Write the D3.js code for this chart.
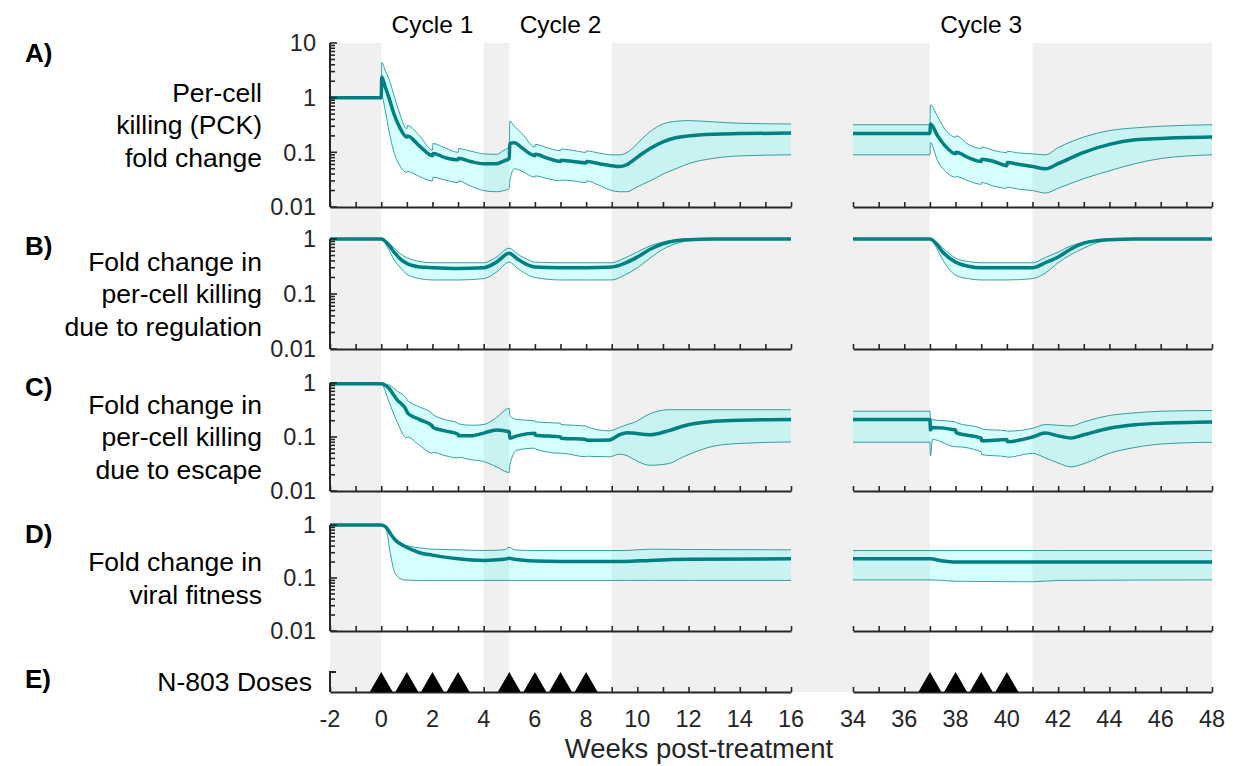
<!DOCTYPE html>
<html lang="en">
<head>
<meta charset="UTF-8">
<title>N-803 per-cell killing fold changes</title>
<script src="https://d3js.org/d3.v7.min.js"></script>
<style>
  body { margin: 0; background: #fff; }
  svg { display: block; font-family: "Liberation Sans", Arial, Helvetica, sans-serif; }
</style>
</head>
<body>
<svg width="1233" height="766"></svg>
<script>
// rows are [week, lower, median, upper]
const pckLeft = [
  [-2, 1, 1, 1], [0, 1, 1, 1], [0.02, 1.1, 2.4, 4.4], [0.15, 0.6, 1.6, 3.2], [0.3, 0.25, 1.0, 2.2],
  [0.5, 0.1, 0.5, 1.1], [0.7, 0.06, 0.3, 0.55], [1, 0.043, 0.19, 0.27], [1.02, 0.045, 0.2, 0.31],
  [1.5, 0.036, 0.13, 0.2], [2, 0.03, 0.087, 0.11], [2.02, 0.035, 0.095, 0.145], [2.5, 0.031, 0.08, 0.12],
  [3, 0.028, 0.073, 0.1], [3.02, 0.03, 0.078, 0.117], [3.5, 0.024, 0.068, 0.105], [4, 0.02, 0.062, 0.094],
  [4.5, 0.019, 0.062, 0.092], [4.8, 0.02, 0.07, 0.11], [5, 0.022, 0.077, 0.127], [5.02, 0.03, 0.145, 0.37],
  [5.2, 0.05, 0.15, 0.3], [5.5, 0.045, 0.12, 0.22], [6, 0.035, 0.087, 0.125], [6.02, 0.037, 0.092, 0.14],
  [6.5, 0.033, 0.078, 0.12], [7, 0.03, 0.068, 0.107], [7.02, 0.031, 0.072, 0.115], [7.5, 0.03, 0.068, 0.108],
  [8, 0.028, 0.064, 0.1], [8.02, 0.03, 0.068, 0.106], [8.5, 0.025, 0.062, 0.097], [9, 0.02, 0.057, 0.09],
  [9.3, 0.019, 0.055, 0.09], [9.6, 0.019, 0.06, 0.1], [9.9, 0.022, 0.075, 0.13], [10.2, 0.026, 0.095, 0.18],
  [10.5, 0.03, 0.117, 0.24], [11, 0.04, 0.155, 0.33], [11.5, 0.05, 0.185, 0.37], [12, 0.062, 0.2, 0.38],
  [13, 0.078, 0.215, 0.36], [14, 0.086, 0.22, 0.34], [16, 0.09, 0.225, 0.33]
];
const pckRight = [
  [34, 0.09, 0.22, 0.32], [37, 0.09, 0.22, 0.32], [37.02, 0.15, 0.33, 0.74], [37.3, 0.07, 0.2, 0.45],
  [37.6, 0.045, 0.13, 0.26], [38, 0.035, 0.094, 0.19], [38.02, 0.036, 0.1, 0.2], [38.5, 0.03, 0.08, 0.14],
  [39, 0.026, 0.068, 0.117], [39.02, 0.028, 0.075, 0.125], [39.5, 0.024, 0.068, 0.108], [40, 0.022, 0.057, 0.099],
  [40.02, 0.023, 0.065, 0.104], [40.5, 0.021, 0.06, 0.097], [41, 0.02, 0.055, 0.094], [41.5, 0.018, 0.05, 0.09],
  [42, 0.022, 0.062, 0.122], [43, 0.033, 0.1, 0.19], [44, 0.046, 0.14, 0.25], [45, 0.062, 0.17, 0.28],
  [46, 0.077, 0.18, 0.3], [48, 0.09, 0.19, 0.32]
];
const regLeft = [
  [-2, 1, 1, 1], [0, 1, 1, 1], [0.25, 0.7, 0.82, 0.88], [0.5, 0.42, 0.58, 0.69], [0.75, 0.3, 0.43, 0.54],
  [1, 0.23, 0.36, 0.46], [1.5, 0.19, 0.31, 0.39], [2, 0.18, 0.3, 0.37], [3, 0.18, 0.29, 0.37],
  [4, 0.19, 0.3, 0.37], [4.5, 0.25, 0.38, 0.47], [5, 0.38, 0.55, 0.68], [5.3, 0.3, 0.44, 0.54],
  [5.6, 0.24, 0.36, 0.45], [6, 0.2, 0.31, 0.38], [7, 0.18, 0.3, 0.37], [8, 0.18, 0.3, 0.37],
  [9, 0.18, 0.31, 0.37], [9.5, 0.22, 0.36, 0.45], [10, 0.3, 0.47, 0.58], [10.5, 0.45, 0.65, 0.75],
  [11, 0.65, 0.82, 0.88], [11.5, 0.82, 0.93, 0.96], [12, 0.93, 0.97, 0.99], [13, 0.99, 1, 1], [16, 1, 1, 1]
];
const regRight = [
  [34, 1, 1, 1], [37, 1, 1, 1], [37.25, 0.7, 0.82, 0.88], [37.5, 0.42, 0.58, 0.69], [38, 0.22, 0.38, 0.45],
  [38.5, 0.19, 0.32, 0.39], [39, 0.18, 0.3, 0.37], [40, 0.18, 0.3, 0.37], [41, 0.19, 0.3, 0.37],
  [41.5, 0.24, 0.37, 0.46], [42, 0.37, 0.47, 0.58], [42.5, 0.52, 0.66, 0.75], [43, 0.68, 0.84, 0.88],
  [43.5, 0.85, 0.93, 0.95], [44, 0.95, 0.97, 0.98], [45, 0.99, 1, 1], [48, 1, 1, 1]
];
const escLeft = [
  [-2, 0.97, 0.97, 0.97], [0, 0.97, 0.97, 0.97], [0.3, 0.45, 0.8, 0.92], [0.6, 0.2, 0.5, 0.72],
  [1, 0.096, 0.3, 0.5], [1.02, 0.1, 0.28, 0.48], [1.5, 0.07, 0.21, 0.36], [2, 0.05, 0.16, 0.27],
  [2.02, 0.052, 0.15, 0.26], [2.5, 0.045, 0.13, 0.21], [3, 0.041, 0.112, 0.18], [3.02, 0.042, 0.105, 0.175],
  [3.5, 0.038, 0.105, 0.165], [4, 0.035, 0.118, 0.17], [4.5, 0.028, 0.135, 0.23], [5, 0.022, 0.125, 0.34],
  [5.02, 0.03, 0.095, 0.25], [5.3, 0.057, 0.105, 0.21], [6, 0.062, 0.117, 0.2], [6.02, 0.06, 0.108, 0.19],
  [7, 0.05, 0.1, 0.18], [7.02, 0.05, 0.095, 0.17], [8, 0.043, 0.09, 0.16], [8.02, 0.044, 0.087, 0.155],
  [8.9, 0.043, 0.088, 0.13], [9.3, 0.048, 0.11, 0.15], [9.6, 0.045, 0.12, 0.17], [9.8, 0.04, 0.118, 0.18],
  [10.5, 0.03, 0.11, 0.27], [11.2, 0.032, 0.13, 0.32], [11.8, 0.043, 0.16, 0.32], [13, 0.068, 0.195, 0.32],
  [14, 0.076, 0.205, 0.32], [16, 0.081, 0.21, 0.32]
];
const escRight = [
  [34, 0.08, 0.21, 0.3], [37, 0.08, 0.21, 0.3], [37.02, 0.045, 0.135, 0.22], [37.1, 0.09, 0.15, 0.21],
  [38, 0.066, 0.135, 0.19], [38.02, 0.066, 0.12, 0.185], [39, 0.053, 0.095, 0.145], [39.02, 0.047, 0.085, 0.14],
  [40, 0.043, 0.09, 0.13], [40.02, 0.042, 0.082, 0.128], [41, 0.05, 0.1, 0.145], [41.5, 0.041, 0.118, 0.17],
  [42, 0.033, 0.105, 0.165], [42.5, 0.028, 0.096, 0.16], [43, 0.032, 0.11, 0.19], [44, 0.05, 0.145, 0.25],
  [45, 0.064, 0.168, 0.28], [46, 0.074, 0.18, 0.3], [48, 0.08, 0.19, 0.31]
];
const fitLeft = [
  [-2, 1, 1, 1], [0, 1, 1, 1], [0.2, 0.8, 0.9, 0.92], [0.35, 0.3, 0.7, 0.75], [0.55, 0.12, 0.52, 0.55],
  [0.9, 0.092, 0.4, 0.42], [1.5, 0.09, 0.3, 0.37], [2, 0.09, 0.27, 0.35], [3, 0.09, 0.23, 0.34],
  [4, 0.09, 0.215, 0.33], [4.8, 0.09, 0.225, 0.34], [5, 0.09, 0.235, 0.38], [5.2, 0.09, 0.225, 0.34],
  [6, 0.09, 0.21, 0.33], [8, 0.09, 0.205, 0.33], [9.5, 0.09, 0.205, 0.33], [10.5, 0.09, 0.215, 0.35],
  [12, 0.09, 0.225, 0.345], [16, 0.09, 0.23, 0.34]
];
const fitRight = [
  [34, 0.092, 0.23, 0.33], [37, 0.092, 0.23, 0.33], [37.5, 0.09, 0.21, 0.33], [38, 0.087, 0.2, 0.33],
  [41, 0.085, 0.2, 0.33], [42, 0.09, 0.2, 0.33], [48, 0.092, 0.2, 0.33]
];

const doseWeeks = [0, 1, 2, 3, 5, 6, 7, 8, 37, 38, 39, 40];
const offLeft = [[-2, 0], [4, 5]];
const offRight = [[41, 48]];
const tickLabelsLeft = [-2, 0, 2, 4, 6, 8, 10, 12, 14, 16];
const tickLabelsRight = [34, 36, 38, 40, 42, 44, 46, 48];
const cycleNames = ["Cycle 1", "Cycle 2", "Cycle 3"];
const cycleWeeks = [2, 7, 39];
const panelLetters = ["A)", "B)", "C)", "D)", "E)"];
const panelTitles = [
  ["Per-cell", "killing (PCK)", "fold change"],
  ["Fold change in", "per-cell killing", "due to regulation"],
  ["Fold change in", "per-cell killing", "due to escape"],
  ["Fold change in", "viral fitness"]
];

const svg = d3.select("svg");
const axisColor = "#262626";
const teal = "#008080";

const xL = d3.scaleLinear().domain([-2, 16]).range([330, 791]);
const xR = d3.scaleLinear().domain([34, 48]).range([853, 1212]);
const doseTop = 672, doseBase = 692;

const panels = [
  { left: pckLeft, right: pckRight, dom: [0.01, 10], top: 43, bot: 207, letterY: 62 },
  { left: regLeft, right: regRight, dom: [0.01, 1], top: 239, bot: 349, letterY: 255 },
  { left: escLeft, right: escRight, dom: [0.01, 1], top: 383, bot: 491, letterY: 396 },
  { left: fitLeft, right: fitRight, dom: [0.01, 1], top: 525, bot: 631, letterY: 543 }
];

// grey off-treatment shading
const shade = svg.append("g").attr("fill", "#f0f0f0");
offLeft.forEach(([a, b]) => shade.append("rect").attr("x", xL(a)).attr("width", xL(b) - xL(a)).attr("y", 43).attr("height", doseBase - 43));
offRight.forEach(([a, b]) => shade.append("rect").attr("x", xR(a)).attr("width", xR(b) - xR(a)).attr("y", 43).attr("height", doseBase - 43));
// weeks 9 to 37 are off treatment, right through the axis break
shade.append("rect").attr("x", xL(9)).attr("width", xR(37) - xL(9)).attr("y", 43).attr("height", doseBase - 43);

function xAxis(x, yPos, weeks) {
  const g = svg.append("g").attr("transform", `translate(0,${yPos})`)
    .call(d3.axisBottom(x).tickValues(weeks).tickSizeInner(-5).tickSizeOuter(0).tickFormat(""));
  g.select(".domain").attr("stroke", axisColor).attr("stroke-width", 2);
  g.selectAll(".tick line").attr("stroke", axisColor).attr("stroke-width", 1.6);
  return g;
}

panels.forEach((p, i) => {
  const y = d3.scaleLog().domain(p.dom).range([p.bot, p.top]);
  const area = x => d3.area().x(d => x(d[0])).y0(d => y(d[1])).y1(d => y(d[3])).curve(d3.curveMonotoneX);
  const line = (x, k) => d3.line().x(d => x(d[0])).y(d => y(d[k])).curve(d3.curveMonotoneX);

  [[p.left, xL], [p.right, xR]].forEach(([data, x]) => {
    svg.append("path").datum(data).attr("d", area(x))
      .attr("fill", "cyan").attr("fill-opacity", 0.16);
    [1, 3].forEach(k => svg.append("path").datum(data).attr("d", line(x, k))
      .attr("fill", "none").attr("stroke", teal).attr("stroke-opacity", 0.75).attr("stroke-width", 1));
    svg.append("path").datum(data).attr("d", line(x, 2))
      .attr("fill", "none").attr("stroke", teal).attr("stroke-width", 3.5);
  });

  xAxis(xL, p.bot, d3.range(-2, 17));
  xAxis(xR, p.bot, d3.range(34, 49));

  // log y axis on the left block only
  const lo = Math.round(Math.log10(p.dom[0])), hi = Math.round(Math.log10(p.dom[1]));
  const majors = d3.range(lo, hi + 1).map(k => Math.pow(10, k));
  const minors = [];
  d3.range(lo, hi).forEach(k => d3.range(2, 10).forEach(m => minors.push(m * Math.pow(10, k))));
  const yg = svg.append("g");
  yg.append("line").attr("x1", 330).attr("x2", 330).attr("y1", p.top).attr("y2", p.bot)
    .attr("stroke", axisColor).attr("stroke-width", 2);
  yg.selectAll(".minor").data(minors).join("line")
    .attr("x1", 330).attr("x2", 335).attr("y1", d => y(d)).attr("y2", d => y(d))
    .attr("stroke", axisColor).attr("stroke-width", 1.6);
  yg.selectAll(".major").data(majors).join("line")
    .attr("x1", 330).attr("x2", 337).attr("y1", d => y(d)).attr("y2", d => y(d))
    .attr("stroke", axisColor).attr("stroke-width", 1.6);
  yg.selectAll("text").data(majors).join("text")
    .attr("x", 316).attr("y", d => y(d)).attr("dy", "0.35em")
    .attr("text-anchor", "end").attr("font-size", 23.5).attr("fill", axisColor)
    .text(d => String(d));

  // panel letter and y title
  svg.append("text").attr("x", 25).attr("y", p.letterY).attr("font-size", 26).attr("font-weight", "bold")
    .text(panelLetters[i]);
  const lines = panelTitles[i];
  const mid = (p.top + p.bot) / 2;
  svg.append("g").selectAll("text").data(lines).join("text")
    .attr("x", 262).attr("y", (d, j) => mid + (j - (lines.length - 1) / 2) * 32.5)
    .attr("dy", "0.35em").attr("text-anchor", "end").attr("font-size", 26.5).attr("fill", "#000")
    .text(d => d);
});

// panel E: dosing
const xe1 = xAxis(xL, doseBase, d3.range(-2, 17));
const xe2 = xAxis(xR, doseBase, d3.range(34, 49));
svg.append("path")
  .attr("d", `M${xL(-2) + 6},${doseTop}H${xL(-2)}V${doseBase}`)
  .attr("fill", "none").attr("stroke", axisColor).attr("stroke-width", 2);
svg.append("g").selectAll("path").data(doseWeeks).join("path")
  .attr("d", w => {
    const x = w < 20 ? xL : xR;
    const c = x(w), hw = x(w + 0.45) - c;
    return `M${c - hw},${doseBase}L${c},${doseTop}L${c + hw},${doseBase}Z`;
  })
  .attr("fill", "#000");
svg.append("text").attr("x", 25).attr("y", 688).attr("font-size", 26).attr("font-weight", "bold").text(panelLetters[4]);
svg.append("text").attr("x", 312).attr("y", doseBase - 10).attr("dy", "0.35em").attr("text-anchor", "end")
  .attr("font-size", 26.5).text("N-803 Doses");

// x tick labels
[[tickLabelsLeft, xL], [tickLabelsRight, xR]].forEach(([vals, x]) => {
  svg.append("g").selectAll("text").data(vals).join("text")
    .attr("x", d => x(d)).attr("y", 727).attr("text-anchor", "middle")
    .attr("font-size", 23.5).attr("fill", axisColor).text(d => d);
});
svg.append("text").attr("x", 699).attr("y", 758).attr("text-anchor", "middle")
  .attr("font-size", 27.5).attr("fill", axisColor).text("Weeks post-treatment");

// cycle labels
svg.append("g").selectAll("text").data(cycleNames).join("text")
  .attr("x", (d, i) => (cycleWeeks[i] < 20 ? xL : xR)(cycleWeeks[i])).attr("y", 33)
  .attr("text-anchor", "middle").attr("font-size", 24.5).attr("fill", "#000").text(d => d);
</script>
</body>
</html>
